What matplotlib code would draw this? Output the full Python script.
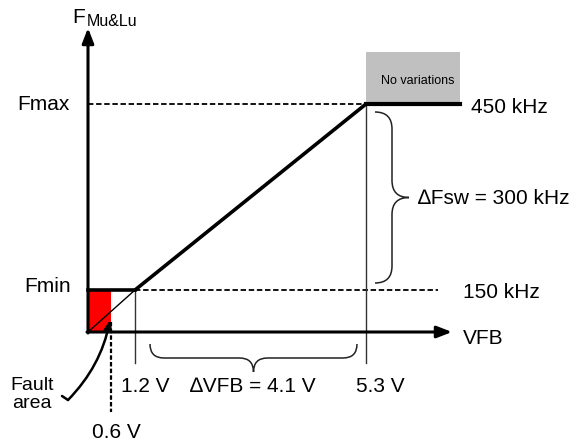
import matplotlib
matplotlib.use("Agg")
import matplotlib.pyplot as plt
from matplotlib.patches import Rectangle, PathPatch
from matplotlib.path import Path
import numpy as np

plt.rcParams['font.family'] = ['Liberation Sans', 'DejaVu Sans']

# ---- schematic data (diagram is not to scale) ----
vfb_values = [0.6, 1.2, 5.3]          # V
vfb_labels = ['0.6 V', '1.2 V', '5.3 V']
freq_values = [150, 450]              # kHz
freq_labels = ['150 kHz', '450 kHz']
freq_names = ['Fmin', 'Fmax']
delta_vfb_label = '\u2206VFB = 4.1 V'
delta_fsw_label = '\u2206Fsw = 300 kHz'

# schematic mapping (piecewise, diagram pixels)
x_origin, y_origin = 88, 332
v_anchor = [0.0, 0.6, 1.2, 5.3, 7.0]
x_anchor = [88, 111, 135, 366, 460]
f_anchor = [0, 150, 450]
y_anchor = [332, 290, 104]

def X(v):
    return float(np.interp(v, v_anchor, x_anchor))

def Y(f):
    return float(np.interp(f, f_anchor, y_anchor))

fig = plt.figure(figsize=(5.84, 4.43), dpi=100)
ax = fig.add_axes([0, 0, 1, 1])
ax.set_xlim(0, 584)
ax.set_ylim(443, 0)
ax.axis('off')

v06, v12, v53 = vfb_values
fmin, fmax = freq_values
x06, x12, x53 = X(v06), X(v12), X(v53)
ymin, ymax = Y(fmin), Y(fmax)
x_end = X(7.0)

# fault area
ax.add_patch(Rectangle((x_origin, ymin), x06 - x_origin, y_origin - ymin,
                       facecolor='#ff0000', edgecolor='none', zorder=1))
# no-variation box
ax.add_patch(Rectangle((x53, 52), x_end - x53, ymax - 2 - 52,
                       facecolor='#c0c0c0', edgecolor='none', zorder=1))
ax.text(418, 81, 'No variations', fontsize=9,
        ha='center', va='center', zorder=3)

# axes arrows
ax.annotate('', xy=(x_origin, 28), xytext=(x_origin, y_origin + 1),
            arrowprops=dict(arrowstyle='-|>,head_length=0.9,head_width=0.35',
                            lw=2.2, color='black', shrinkA=0, shrinkB=0), zorder=4)
ax.annotate('', xy=(452, y_origin), xytext=(x_origin - 1, y_origin),
            arrowprops=dict(arrowstyle='-|>,head_length=0.9,head_width=0.35',
                            lw=2.2, color='black', shrinkA=0, shrinkB=0), zorder=4)

# dashed reference lines
ax.plot([x_origin, x53], [ymax, ymax], color='black', lw=1.3, ls=(0, (3, 1.5)), zorder=2)
ax.plot([x12, 438], [ymin, ymin], color='black', lw=1.3, ls=(0, (3, 1.5)), zorder=2)
ax.plot([x06, x06], [322, 412], color='black', lw=1.6, ls=(0, (2, 1)), zorder=2)

# vertical markers
ax.plot([x12, x12], [ymin, 363], color='#333333', lw=1.0, zorder=2)
ax.plot([x53, x53], [ymax, 363], color='#333333', lw=1.0, zorder=2)

# transfer characteristic
ax.plot([x_origin, x12], [y_origin, ymin], color='black', lw=1.0, zorder=3)
ax.plot([x_origin, x12], [ymin, ymin], color='black', lw=2.6, zorder=3)
ax.plot([x12, x53], [ymin, ymax], color='black', lw=2.6, zorder=3, solid_capstyle='round')
ax.plot([x53, x_end], [ymax, ymax], color='black', lw=3.0, zorder=3)

# curly braces
def brace_v(ax, x0, y0, y1, w):
    """vertical brace opening left, tip pointing right"""
    ym = (y0 + y1) / 2
    r = w / 2
    verts = [(x0, y0), (x0 + r, y0), (x0 + r, y0 + r),
             (x0 + r, ym - r),
             (x0 + r, ym), (x0 + w, ym), (x0 + w, ym),
             (x0 + r, ym), (x0 + r, ym + r),
             (x0 + r, y1 - r),
             (x0 + r, y1), (x0, y1)]
    codes = [Path.MOVETO, Path.CURVE3, Path.CURVE3,
             Path.LINETO,
             Path.CURVE3, Path.CURVE3, Path.MOVETO,
             Path.CURVE3, Path.CURVE3,
             Path.LINETO,
             Path.CURVE3, Path.CURVE3]
    ax.add_patch(PathPatch(Path(verts, codes), fill=False, lw=1.1,
                           edgecolor='#222222', zorder=3))

def brace_h(ax, x0, x1, y0, h):
    """horizontal brace opening up, tip pointing down"""
    xm = (x0 + x1) / 2
    r = h / 2
    verts = [(x0, y0), (x0, y0 + r), (x0 + r, y0 + r),
             (xm - r, y0 + r),
             (xm, y0 + r), (xm, y0 + h), (xm, y0 + h),
             (xm, y0 + r), (xm + r, y0 + r),
             (x1 - r, y0 + r),
             (x1, y0 + r), (x1, y0)]
    codes = [Path.MOVETO, Path.CURVE3, Path.CURVE3,
             Path.LINETO,
             Path.CURVE3, Path.CURVE3, Path.MOVETO,
             Path.CURVE3, Path.CURVE3,
             Path.LINETO,
             Path.CURVE3, Path.CURVE3]
    ax.add_patch(PathPatch(Path(verts, codes), fill=False, lw=1.1,
                           edgecolor='#222222', zorder=3))

brace_v(ax, 375, 112, 283, 34)
brace_h(ax, 150, 357, 344, 28)

# fault area arrow
ax.annotate('', xy=(110, 320), xytext=(68, 400),
            arrowprops=dict(arrowstyle='-|>,head_length=0.6,head_width=0.25',
                            lw=1.8, color='black', shrinkA=0, shrinkB=0,
                            connectionstyle='arc3,rad=0.15'), zorder=5)
ax.plot([62, 68], [396, 400], color='black', lw=1.8, zorder=5, solid_capstyle='round')

# texts
fs = 15
ax.text(85, 17, 'F', fontsize=15, ha='right', va='center')
ax.text(87, 21, 'Mu&Lu', fontsize=11.5, ha='left', va='center')
ax.text(70, ymax, freq_names[1], fontsize=fs, ha='right', va='center')
ax.text(71, ymin - 3, freq_names[0], fontsize=fs, ha='right', va='center')
ax.text(471, ymax + 3, freq_labels[1], fontsize=fs, ha='left', va='center')
ax.text(463, ymin + 3, freq_labels[0], fontsize=fs, ha='left', va='center')
ax.text(463, 339, 'VFB', fontsize=fs, ha='left', va='center')
ax.text(418, 198, delta_fsw_label, fontsize=fs, ha='left', va='center')
ax.text(253, 387, delta_vfb_label, fontsize=fs, ha='center', va='center')
ax.text(145, 387, vfb_labels[1], fontsize=fs, ha='center', va='center')
ax.text(380, 387, vfb_labels[2], fontsize=fs, ha='center', va='center')
ax.text(116, 432, vfb_labels[0], fontsize=fs, ha='center', va='center')
ax.text(32, 385, 'Fault', fontsize=14, ha='center', va='center')
ax.text(32, 404, 'area', fontsize=14, ha='center', va='center')

fig.savefig('out.png', dpi=100)
